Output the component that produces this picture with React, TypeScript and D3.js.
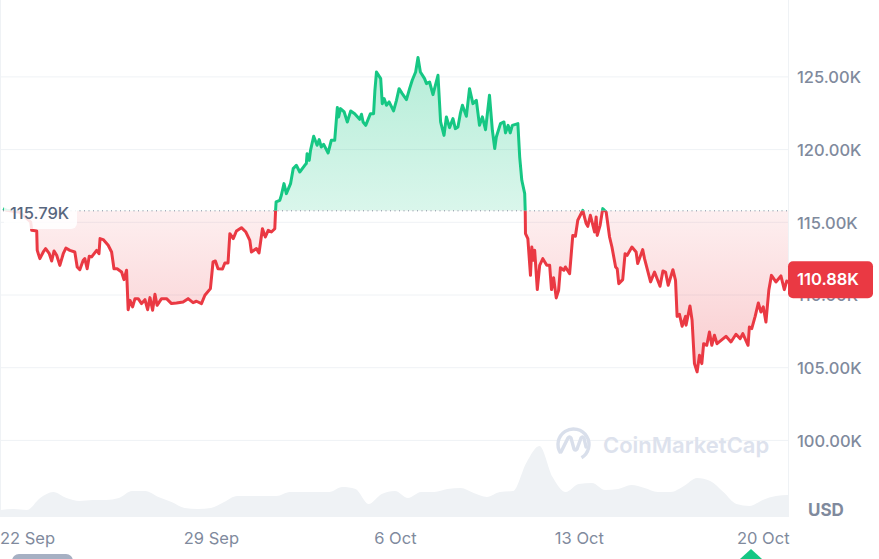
import React, { useRef, useEffect } from 'react';
import * as d3 from 'd3';

// days counted from 22 Sep
const priceDays = [
  -0.91, -0.77, -0.27, 0.14, 0.18, 0.37, 0.39, 0.49, 0.62, 0.71, 0.85, 0.94, 1.03, 1.13, 1.25, 1.38, 1.48, 1.63, 1.82, 1.91,
  2.01, 2.14, 2.2, 2.29, 2.37, 2.46, 2.65, 2.74, 2.78, 2.9, 3.09, 3.22, 3.31, 3.43, 3.6, 3.69, 3.79, 3.85, 3.92, 4.02,
  4.11, 4.23, 4.36, 4.49, 4.59, 4.68, 4.78, 4.87, 4.95, 5.12, 5.31, 5.5, 5.69, 5.94, 6.13, 6.32, 6.45, 6.64, 6.77, 6.98,
  7.08, 7.17, 7.27, 7.44, 7.53, 7.65, 7.72, 7.85, 7.97, 8.16, 8.33, 8.48, 8.54, 8.73, 8.83, 8.96, 9.07, 9.18, 9.3, 9.43, 9.46,
  9.48, 9.62, 9.68, 9.78, 9.87, 10.03, 10.13, 10.25, 10.38, 10.57, 10.63, 10.66, 10.74, 10.79, 10.91, 11.04, 11.12, 11.2, 11.29, 11.46,
  11.58, 11.71, 11.81, 11.86, 11.93, 12.07, 12.19, 12.32, 12.47, 12.66, 12.73, 12.79, 12.89, 13.07, 13.19, 13.24, 13.3, 13.46, 13.52, 13.59,
  13.68, 13.78, 13.95, 14.06, 14.16, 14.28, 14.44, 14.56, 14.66, 14.79, 14.88, 14.97, 15.13, 15.2, 15.32, 15.45, 15.64, 15.74, 15.87, 15.96,
  16.08, 16.21, 16.3, 16.4, 16.49, 16.57, 16.72, 16.84, 16.97, 17.1, 17.22, 17.33, 17.45, 17.6, 17.71, 17.8, 17.86, 18.02, 18.15, 18.21,
  18.31, 18.39, 18.47, 18.68, 18.75, 18.83, 18.94, 18.96, 18.97, 19.06, 19.16, 19.21, 19.28, 19.32, 19.42, 19.51, 19.63, 19.78, 19.89, 19.96,
  20.04, 20.14, 20.23, 20.3, 20.43, 20.49, 20.65, 20.77, 20.87, 20.96, 21.15, 21.28, 21.34, 21.44, 21.6, 21.66, 21.7, 21.81, 21.91, 22.04,
  22.17, 22.26, 22.4, 22.46, 22.52, 22.67, 22.76, 22.84, 23.02, 23.18, 23.24, 23.43, 23.5, 23.73, 23.88, 24.09, 24.2, 24.3, 24.4, 24.58,
  24.68, 24.74, 24.83, 24.93, 25.06, 25.08, 25.23, 25.31, 25.4, 25.5, 25.59, 25.68, 25.75, 25.87, 25.97, 26.06, 26.16, 26.26, 26.6, 26.79,
  26.98, 27.14, 27.24, 27.44, 27.49, 27.58, 27.71, 27.83, 27.93, 28.02, 28.12, 28.23, 28.33, 28.5, 28.69, 28.82, 28.91, 28.99,
];

// price in thousands of USD
const prices = [
  115.94, 115.82, 115.69, 115.02, 114.45, 114.4, 113.07, 112.5, 112.96, 113.19, 112.84, 112.34, 113.03, 112.73, 112.04, 112.84, 113.23, 113.07, 112.96, 111.93,
  111.74, 112.39, 112.5, 111.81, 112.66, 112.62, 113.07, 112.84, 113.88, 113.81, 113.42, 112.96, 111.81, 111.81, 111.58, 111.06, 111.7, 108.99, 109.63, 109.18,
  109.75, 109.75, 109.41, 109.68, 108.99, 109.82, 108.95, 110.05, 109.29, 109.75, 109.75, 109.41, 109.45, 109.52, 109.75, 109.47, 109.57, 109.41, 109.98, 110.44,
  112.27, 112.34, 111.81, 111.79, 112.2, 112.2, 114.22, 113.88, 114.4, 114.63, 114.33, 113.76, 112.96, 113.19, 112.89, 114.56, 113.99, 114.45, 114.33, 114.56, 115.82,
  116.4, 116.51, 116.86, 117.66, 116.97, 117.66, 118.69, 118.92, 118.46, 118.92, 119.04, 119.72, 119.26, 119.95, 120.92, 120.3, 120.69, 120.18, 120.36, 119.77,
  120.64, 120.64, 122.89, 122.24, 122.82, 122.59, 121.9, 122.66, 122.47, 122.08, 122.43, 121.9, 121.67, 122.47, 122.47, 124.08, 125.34, 124.88, 123.16, 123.51,
  123.05, 123.28, 122.66, 123.39, 124.19, 123.85, 123.44, 124.19, 124.77, 125.34, 126.33, 125.34, 124.88, 124.54, 124.65, 123.78, 125.11, 121.9, 120.98, 122.25,
  121.51, 122.13, 121.44, 121.56, 122.47, 123.05, 122.29, 124.19, 123.16, 123.39, 121.67, 122.25, 121.37, 123.74, 121.33, 120.07, 120.87, 121.79, 121.9, 121.15,
  121.67, 121.15, 121.67, 121.79, 119.49, 117.89, 116.97, 115.83, 114.22, 113.88, 111.35, 113.3, 112.39, 113.07, 110.37, 112.04, 112.5, 112.04, 112.04, 110.37,
  111.19, 109.8, 110.32, 111.88, 111.7, 111.93, 111.47, 114.1, 114.04, 115.14, 115.82, 114.91, 114.72, 115.48, 114.33, 115.37, 114.1, 114.79, 115.94, 115.71,
  113.99, 113.3, 111.93, 111.81, 110.78, 111.06, 112.84, 112.73, 113.3, 112.96, 112.16, 113.12, 112.5, 110.9, 111.58, 110.6, 111.65, 111.58, 110.67, 111.74,
  111.01, 108.53, 108.67, 107.85, 108.53, 107.92, 109.25, 108.26, 105.28, 104.71, 105.85, 105.28, 106.65, 106.54, 107.46, 106.54, 107.23, 106.65, 107.16, 106.77,
  107.3, 107.0, 107.34, 106.54, 107.8, 107.69, 108.53, 109.45, 108.83, 109.18, 108.14, 110.32, 111.35, 110.9, 111.31, 110.37, 110.96, 110.88,
];

const volumeDays = [
  -1, -0.5, 0, 0.5, 1, 1.5, 2, 2.5, 3, 3.5, 4, 4.5, 5, 5.5, 6, 6.5, 7, 7.5, 8, 8.5, 9, 9.5, 10, 10.5, 11, 11.5, 12, 12.5, 13, 13.5,
  14, 14.5, 15, 15.5, 16, 16.5, 17, 17.5, 18, 18.5, 19, 19.5, 20, 20.5, 21, 21.5, 22, 22.5, 23, 23.5, 24, 24.5, 25, 25.5, 26, 26.5, 27, 27.5, 28, 28.5, 29,
];
const volumes = [
  7, 8, 7, 19, 25, 19, 16, 17, 17, 19, 26, 26, 20, 15, 9, 8, 9, 15, 21, 21, 21, 21, 25, 25, 25, 25, 30, 28, 13, 23,
  26, 19, 25, 25, 28, 29, 24, 20, 25, 26, 54, 71, 40, 25, 33, 34, 27, 28, 32, 29, 25, 25, 31, 39, 36, 25, 13, 11, 17, 21, 22,
];

const priceTicks = [100, 105, 110, 115, 120, 125];
const dateTicks = [0, 7, 14, 21, 28];
const dateLabels = ['22 Sep', '29 Sep', '6 Oct', '13 Oct', '20 Oct'];
const basePrice = 115.79;
const lastPrice = 110.88;

const FONT = 'Inter, sans-serif';
const GREEN = '#16c784';
const RED = '#ea3943';
const GRID = '#eff2f5';

const App = () => {
  const svgRef = useRef(null);
  const svg_width = 879;
  const svg_height = 559;
  const plotRight = 788;
  const plotBottom = 517;

  useEffect(() => {
    const svg = d3.select(svgRef.current);
    svg.selectAll('*').remove();

    const x = d3.scaleLinear().domain([-1.027, 28.96]).range([0, plotRight]);
    const y = d3.scaleLinear().domain([100, 125]).range([440.4, 76.9]);
    const v = d3.scaleLinear().domain([0, 80]).range([plotBottom, plotBottom - 80]);
    const baseY = y(basePrice);
    const data = priceDays.map((d, i) => ({ d, p: prices[i] }));
    const volData = volumeDays.map((d, i) => ({ d, v: volumes[i] }));

    const defs = svg.append('defs');
    defs.append('clipPath').attr('id', 'above').append('rect')
      .attr('x', 0).attr('y', 0).attr('width', plotRight).attr('height', baseY);
    defs.append('clipPath').attr('id', 'below').append('rect')
      .attr('x', 0).attr('y', baseY).attr('width', plotRight).attr('height', plotBottom - baseY);
    defs.append('clipPath').attr('id', 'plot').append('rect')
      .attr('x', 0).attr('y', 0).attr('width', plotRight).attr('height', plotBottom);

    const greenGrad = defs.append('linearGradient').attr('id', 'greenFill')
      .attr('gradientUnits', 'userSpaceOnUse').attr('x1', 0).attr('x2', 0).attr('y1', y(126.3)).attr('y2', baseY);
    greenGrad.append('stop').attr('offset', 0).attr('stop-color', GREEN).attr('stop-opacity', 0.32);
    greenGrad.append('stop').attr('offset', 1).attr('stop-color', GREEN).attr('stop-opacity', 0.16);
    const redGrad = defs.append('linearGradient').attr('id', 'redFill')
      .attr('gradientUnits', 'userSpaceOnUse').attr('x1', 0).attr('x2', 0).attr('y1', baseY).attr('y2', y(104.7));
    redGrad.append('stop').attr('offset', 0).attr('stop-color', RED).attr('stop-opacity', 0.08);
    redGrad.append('stop').attr('offset', 1).attr('stop-color', RED).attr('stop-opacity', 0.26);

    // Frame and grid
    svg.append('g').selectAll('line').data(priceTicks).enter().append('line')
      .attr('x1', 0).attr('x2', plotRight)
      .attr('y1', d => y(d)).attr('y2', d => y(d))
      .attr('stroke', GRID);
    svg.append('line').attr('x1', 0.5).attr('x2', 0.5).attr('y1', 0).attr('y2', plotBottom).attr('stroke', GRID);
    svg.append('line').attr('x1', plotRight + 0.5).attr('x2', plotRight + 0.5).attr('y1', 0).attr('y2', plotBottom).attr('stroke', GRID);

    // Volume
    const volArea = d3.area().x(d => x(d.d)).y0(plotBottom).y1(d => v(d.v)).curve(d3.curveMonotoneX);
    svg.append('path').datum(volData).attr('d', volArea)
      .attr('clip-path', 'url(#plot)').attr('fill', '#eff2f5');

    // Watermark
    const mark = svg.append('g').attr('fill', 'none').attr('stroke', '#d9dfeb').attr('stroke-width', 3.4);
    mark.append('path').attr('transform', 'translate(573.5,444.5)')
      .attr('d', d3.arc()({ innerRadius: 15.5, outerRadius: 15.5, startAngle: -2.15, endAngle: 2.6 }));
    mark.append('path').attr('d', 'M561 452 L568 438 Q569.5 436 571 438 L574 449 Q575 451 577 449 L581 438 Q582.5 436 584 438 L586 447')
      .attr('stroke-linecap', 'round');
    svg.append('text').attr('x', 603).attr('y', 453)
      .attr('font-family', FONT).attr('font-size', 22).attr('font-weight', 600).attr('fill', '#dde2ed')
      .text('CoinMarketCap');

    // Price areas and lines
    const area = d3.area().x(d => x(d.d)).y0(baseY).y1(d => y(d.p));
    const line = d3.line().x(d => x(d.d)).y(d => y(d.p));
    svg.append('path').datum(data).attr('d', area).attr('clip-path', 'url(#above)').attr('fill', 'url(#greenFill)');
    svg.append('path').datum(data).attr('d', area).attr('clip-path', 'url(#below)').attr('fill', 'url(#redFill)');
    svg.append('path').datum(data).attr('d', line).attr('clip-path', 'url(#above)')
      .attr('fill', 'none').attr('stroke', GREEN).attr('stroke-width', 3).attr('stroke-linejoin', 'round');
    svg.append('path').datum(data).attr('d', line).attr('clip-path', 'url(#below)')
      .attr('fill', 'none').attr('stroke', RED).attr('stroke-width', 3).attr('stroke-linejoin', 'round');

    // Base price
    svg.append('line').attr('x1', 3).attr('x2', plotRight).attr('y1', baseY).attr('y2', baseY)
      .attr('stroke', '#808a9d').attr('stroke-width', 1).attr('stroke-dasharray', '1 3.5');
    svg.append('rect').attr('x', 4).attr('y', 199).attr('width', 73).attr('height', 30).attr('rx', 6)
      .attr('fill', '#fff').attr('fill-opacity', 0.86);
    svg.append('text').attr('x', 10).attr('y', 219)
      .attr('font-family', FONT).attr('font-size', 16.5).attr('font-weight', 500).attr('fill', '#58667e')
      .text(basePrice.toFixed(2) + 'K');

    // Axes
    const yAxis = d3.axisRight(y).tickValues(priceTicks).tickSize(0).tickPadding(0)
      .tickFormat(d => d3.format('.2f')(d) + 'K');
    const y_axis = svg.append('g').attr('transform', 'translate(797,0.5)').call(yAxis);
    const xAxis = d3.axisBottom(x).tickValues(dateTicks).tickSize(0).tickPadding(0)
      .tickFormat((d, i) => dateLabels[i]);
    const x_axis = svg.append('g').attr('transform', 'translate(0,532)').call(xAxis);
    [y_axis, x_axis].forEach(a => {
      a.select('.domain').remove();
      a.selectAll('text').attr('font-family', FONT).attr('font-size', 16.5).attr('font-weight', 500).attr('fill', '#808a9d');
    });
    x_axis.selectAll('text').attr('font-weight', 400);
    svg.append('text').attr('x', 808).attr('y', 516)
      .attr('font-family', FONT).attr('font-size', 17).attr('font-weight', 700).attr('fill', '#808a9d')
      .text('USD');

    // Last price badge
    svg.append('rect').attr('x', 788).attr('y', y(lastPrice) - 21).attr('width', 85).attr('height', 37).attr('rx', 5).attr('fill', RED);
    svg.append('text').attr('x', 797).attr('y', y(lastPrice) - 1.5).attr('dominant-baseline', 'middle')
      .attr('font-family', FONT).attr('font-size', 16.5).attr('font-weight', 600).attr('fill', '#fff')
      .text(lastPrice.toFixed(2) + 'K');

    // Bits at the bottom edge
    svg.append('rect').attr('x', 12).attr('y', 554).attr('width', 61).attr('height', 14).attr('rx', 7).attr('fill', '#a6b0c3');
    svg.append('path').attr('d', d3.line()([[740, 559], [751, 549], [762, 559]])).attr('fill', GREEN);
  }, []);

  return (
    <svg ref={svgRef} width={svg_width} height={svg_height}
      style={{ position: 'absolute', left: 0, top: 0, display: 'block', background: '#fff' }} />
  );
};

export default App;
